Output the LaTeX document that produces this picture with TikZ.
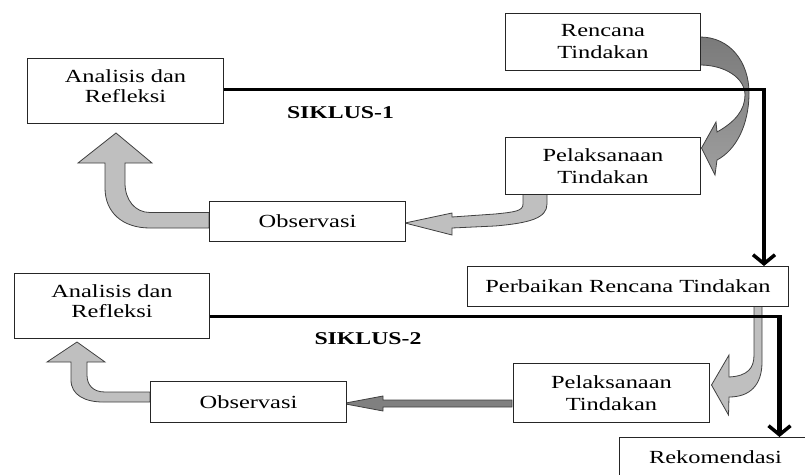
\documentclass[tikz,border=0pt]{standalone}
\usepackage{fontspec}
\setmainfont{Liberation Serif}[FakeStretch=1.32]
\usetikzlibrary{arrows.meta,calc}
\begin{document}
\begin{tikzpicture}[x=1pt,y=-1pt,
  box/.style={draw=black!85, line width=1pt, fill=white, align=center, inner sep=0pt,
    font=\fontsize{18.5}{22}\selectfont, anchor=north west},
  blk/.style={draw=black!75, line width=0.8pt, fill=black!25},
  blkdark/.style={draw=black!75, line width=0.8pt, fill=black!50},
  flowh/.style={line width=3pt, draw=black},
  flowv/.style={line width=4.5pt, draw=black, -{Straight Barb[length=9pt,width=22pt,line width=3.5pt]}},
  cyc/.style={font=\fontsize{18}{22}\selectfont\bfseries}]
\useasboundingbox (0,0) rectangle (805,474);
\clip (0,0) rectangle (805,474);

% gray block arrows
\shade[top color=black!52, bottom color=black!38, draw=black!75, line width=0.8pt]
  (700,37) .. controls (730,37) and (749,62) .. (749,93)
  .. controls (749,125) and (736,150) .. (717,160)
  -- (715,175) -- (701.5,148) -- (716,122) -- (717,132)
  .. controls (735,122) and (745,110) .. (745,95)
  .. controls (745,78) and (725,65) .. (700,65) -- cycle;

\draw[blk] (523,194) -- (523,204) .. controls (523,211) and (515,212) .. (495,214)
  -- (452,217) -- (452,213) -- (405,223) -- (452,235) -- (452,228) -- (495,226)
  .. controls (530,223) and (547,218) .. (547,204) -- (547,194) -- cycle;

\draw[blk] (209,212.5) -- (150,212.5) .. controls (135,212.5) and (125,200) .. (125,183)
  -- (125,163) -- (152,163) -- (116,133) -- (78,163) -- (105,163) -- (105,188)
  .. controls (105,212) and (122,228) .. (150,228) -- (209,228) -- cycle;

\draw[blk] (754,306) -- (754,355) .. controls (754,368) and (748,376) .. (729,377)
  -- (729,355) -- (711.5,385) -- (728.5,415) -- (729,397)
  .. controls (750,397) and (762,385) .. (762,362) -- (762,306) -- cycle;

\draw[blkdark] (512,400) -- (383,400) -- (383,396) -- (343,403.5) -- (383,411)
  -- (383,407) -- (512,407) -- cycle;

\draw[blk] (150,392) -- (105,392) .. controls (93,392) and (87,385) .. (87,375)
  -- (87,362) -- (105,362) -- (77,342) -- (47,362) -- (71,362) -- (71,380)
  .. controls (71,395) and (85,402) .. (103,402) -- (150,402) -- cycle;

% boxes
\node[box, minimum width=195pt, minimum height=57pt] (rt) at (505,13) {Rencana\\Tindakan};
\node[box, minimum width=195pt, minimum height=57pt] (pt1) at (505,137) {Pelaksanaan\\Tindakan};
\node[box, minimum width=196pt, minimum height=65pt,
  label={[font=\fontsize{18.5}{20}\selectfont, align=center, yshift=5pt]center:Analisis dan\\Refleksi}] (ar1) at (27,58) {};
\node[box, minimum width=196pt, minimum height=40pt] (ob1) at (209,201) {Observasi};
\node[box, minimum width=321pt, minimum height=40pt] (pr) at (467,266) {Perbaikan Rencana Tindakan};
\node[box, minimum width=195pt, minimum height=65pt,
  label={[font=\fontsize{18.5}{20}\selectfont, align=center, yshift=5pt]center:Analisis dan\\Refleksi}] (ar2) at (14,273) {};
\node[box, minimum width=196pt, minimum height=41pt] (ob2) at (150,381) {Observasi};
\node[box, minimum width=196pt, minimum height=59pt] (pt2) at (513,363) {Pelaksanaan\\Tindakan};
\node[box, minimum width=192pt, minimum height=40pt] (rk) at (619,437) {Rekomendasi};

\node[cyc] (s1) at (340.5,113) {SIKLUS-1};
\node[cyc] (s2) at (368,338.5) {SIKLUS-2};

% black flow lines
\coordinate (a1e) at ([yshift=1.5pt]ar1.east);
\coordinate (prn) at ([xshift=-25pt]pr.north east);
\coordinate (c1) at (prn |- a1e);
\draw[flowh] (a1e) -- ([xshift=2.25pt]c1);
\draw[flowv] ([yshift=1.5pt]c1) -- (prn);
\coordinate (a2e) at ([yshift=-10.5pt]ar2.east);
\coordinate (rkn) at ([xshift=64pt]rk.north);
\coordinate (c2) at (rkn |- a2e);
\draw[flowh] (a2e) -- ([xshift=2.25pt]c2);
\draw[flowv] ([yshift=1.5pt]c2) -- (rkn);
\end{tikzpicture}
\end{document}
